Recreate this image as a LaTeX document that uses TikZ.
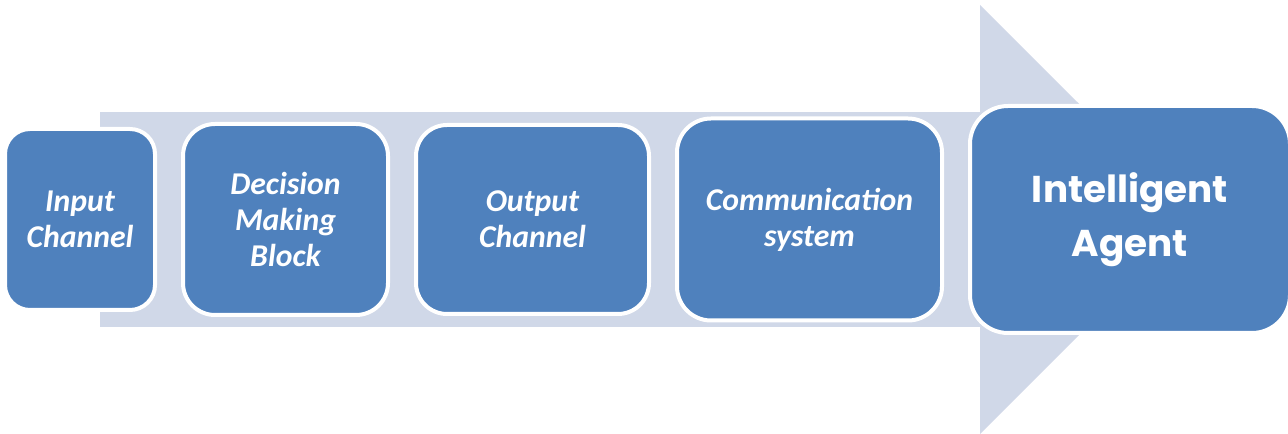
\documentclass[tikz,border=0pt]{standalone}
\usepackage{fontspec}
\setsansfont{Carlito}
\newfontfamily\agentfont{Poppins}
\usetikzlibrary{positioning,calc}
\definecolor{blockblue}{HTML}{4F81BD}
\definecolor{arrowgray}{HTML}{D0D8E8}

\begin{document}
\begin{tikzpicture}[x=0.75pt,y=0.75pt,node distance=21pt,outer sep=0pt,inner sep=0pt]
        \tikzset{block/.style={align=center,shape=rectangle,draw=white,line width=3pt,fill=blockblue,text=white,font=\sffamily\bfseries\itshape\fontsize{23.8}{27}\selectfont}}
        \tikzset{agent/.style={block,font=\agentfont\bfseries\fontsize{28}{40.5}\selectfont}}

        \useasboundingbox (0,0) rectangle (1288,434);
        \fill[arrowgray] (100,107) rectangle (981,322);
        \fill[arrowgray] (980,0) -- (980,429) -- (1195,214.5) -- cycle;

        \node [block,minimum width=112.5pt,minimum height=135.75pt,rounded corners=18.75pt] (input) at (80,214.5) {Input\\Channel};
        \node [block,right=of input,minimum width=153.75pt,minimum height=143.25pt,rounded corners=24pt] (decision) {Decision\\Making\\Block};
        \node [block,right=of decision,minimum width=174.75pt,minimum height=141.75pt,rounded corners=23.25pt] (output) {Output\\Channel};
        \node [block,right=of output,minimum width=198.75pt,minimum height=151.5pt,rounded corners=25.5pt] (comm) {Communication\\system};
        \node [agent,right=of comm,minimum width=240pt,minimum height=170.25pt,rounded corners=28.5pt] (agent) {Intelligent\\Agent};

    \end{tikzpicture}
\end{document}
